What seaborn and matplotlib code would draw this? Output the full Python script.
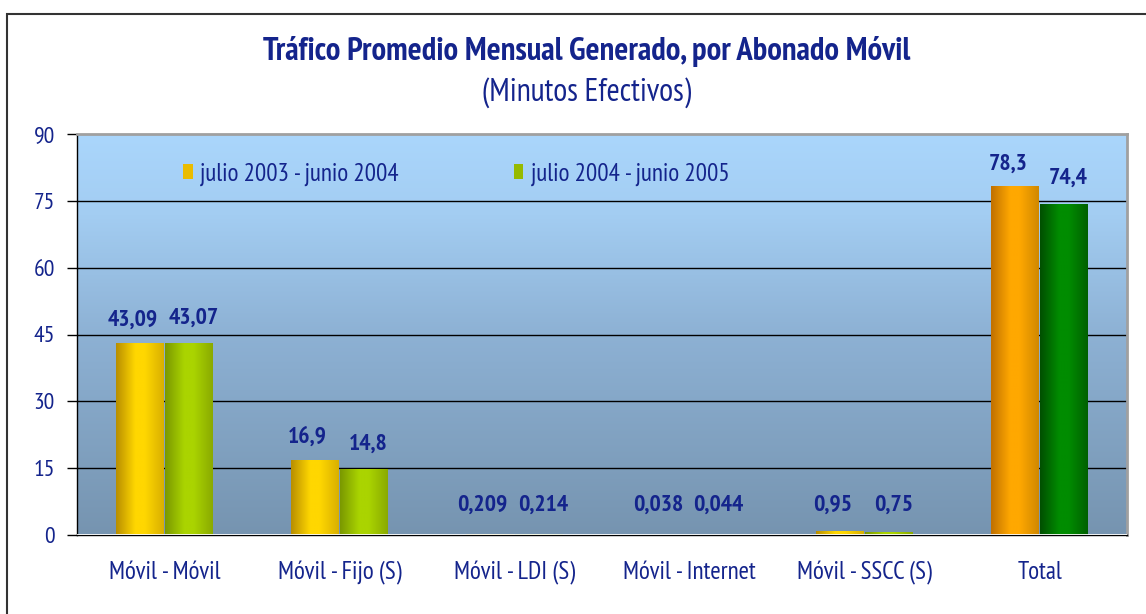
import numpy as np
import pandas as pd
import seaborn as sns
from matplotlib import pyplot as plt
from matplotlib.colors import LinearSegmentedColormap
from matplotlib.patches import Rectangle, Patch

# datos
categorias = ["Móvil - Móvil", "Móvil - Fijo (S)", "Móvil - LDI (S)",
              "Móvil - Internet", "Móvil - SSCC (S)", "Total"]
periodo_1 = "julio 2003 - junio 2004"
periodo_2 = "julio 2004 - junio 2005"
valores_1 = [43.09, 16.9, 0.209, 0.038, 0.95, 78.3]
valores_2 = [43.07, 14.8, 0.214, 0.044, 0.75, 74.4]
etiquetas_1 = ["43,09", "16,9", "0,209", "0,038", "0,95", "78,3"]
etiquetas_2 = ["43,07", "14,8", "0,214", "0,044", "0,75", "74,4"]
yticks = [0, 15, 30, 45, 60, 75, 90]

df = pd.DataFrame({
    "categoria": categorias * 2,
    "minutos": valores_1 + valores_2,
    "periodo": [periodo_1] * 6 + [periodo_2] * 6,
})

sns.set_style("white")
plt.rcParams["font.family"] = ["PT Sans Narrow", "Liberation Sans", "DejaVu Sans"]

azul = "#14248C"

fig = plt.figure(figsize=(11.46, 6.14), dpi=100)
ax = fig.add_axes([77 / 1146, 79 / 614, 1050 / 1146, 401 / 614])

# fondo degradado
cmap_fondo = LinearSegmentedColormap.from_list(
    "fondo", [(0.0, "#7694B0"), (0.5, "#8DB1D4"), (0.8, "#A3CDF2"), (1.0, "#AAD6FC")])
grad = np.linspace(0, 1, 256).reshape(-1, 1)
ax.imshow(grad, cmap=cmap_fondo, origin="lower", aspect="auto",
          extent=[0, 1, 0, 1], transform=ax.transAxes, zorder=0.1)

sns.barplot(data=df, x="categoria", y="minutos", hue="periodo",
            palette=["#FFD200", "#A8D000"], width=0.566, gap=0.035,
            legend=False, ax=ax, zorder=2)

# degradado tipo cilindro en cada barra
def cmap_barra(oscuro, claro, medio):
    return LinearSegmentedColormap.from_list(
        "b", [(0, oscuro), (0.4, claro), (0.6, claro), (1, medio)])

cm_oro = cmap_barra("#B88E00", "#FFD700", "#D9B000")
cm_verde = cmap_barra("#7A9800", "#AAD400", "#8AAA00")
cm_naranja = cmap_barra("#C07000", "#FFA800", "#D08800")
cm_vverde = cmap_barra("#004F00", "#008C00", "#006000")

barras = ax.patches[:12]
hgrad = np.linspace(0, 1, 128).reshape(1, -1)
for i, p in enumerate(barras):
    serie, cat = divmod(i, 6)
    if cat == 5:
        cm = cm_naranja if serie == 0 else cm_vverde
    else:
        cm = cm_oro if serie == 0 else cm_verde
    x0, w, h = p.get_x(), p.get_width(), p.get_height()
    im = ax.imshow(hgrad, cmap=cm, aspect="auto", extent=[x0, x0 + w, 0, h], zorder=2.5)
    im.set_clip_path(p)
    p.set_edgecolor("none")

# etiquetas de valores (primera serie un poco a la izquierda, segunda a la derecha)
for i in range(6):
    p1, p2 = barras[i], barras[i + 6]
    ax.annotate(etiquetas_1[i], (p1.get_x() + p1.get_width() / 2, max(valores_1[i] + 5.0, 6.7)),
                xytext=(-5, 0), textcoords="offset points",
                ha="center", va="center", fontsize=17, fontweight="bold", color=azul, zorder=5)
    ax.annotate(etiquetas_2[i], (p2.get_x() + p2.get_width() / 2, max(valores_2[i] + 5.6, 6.7)),
                xytext=(3, 0), textcoords="offset points",
                ha="center", va="center", fontsize=17, fontweight="bold", color=azul, zorder=5)

ax.set_ylim(0, 90)
ax.set_xlim(-0.5, 5.5)
ax.set_yticks(yticks)
ax.set_yticklabels([str(v) for v in yticks], fontsize=17, color=azul)
ax.set_xticks(np.arange(-0.5, 6, 1))
ax.set_xticklabels([])
ax.set_xticks(range(6), minor=True)
ax.set_xticklabels(categorias, minor=True, fontsize=18, color=azul)
ax.tick_params(axis="x", which="major", length=7, width=1, color="black", direction="out")
ax.tick_params(axis="x", which="minor", length=0, pad=19)
ax.tick_params(axis="y", length=7, width=1, color="black", direction="out", left=True, pad=9)
ax.set_xlabel("")
ax.set_ylabel("")

for v in yticks[1:-1]:
    ax.axhline(v, color="black", lw=1, zorder=1)
ax.axhline(0, color="white", lw=2, zorder=3)

for s in ["left", "bottom"]:
    ax.spines[s].set_color("black")
    ax.spines[s].set_linewidth(1)
for s in ["top", "right"]:
    ax.spines[s].set_color("#A0A0A0")
    ax.spines[s].set_linewidth(2)

# leyenda
handles = [Patch(facecolor="#EABC00", edgecolor="none"),
           Patch(facecolor="#96BA00", edgecolor="none")]
ax.legend(handles, [periodo_1, periodo_2], loc="center left", bbox_to_anchor=(0.101, 0.90),
          ncol=2, frameon=False, fontsize=18, labelcolor=azul, borderpad=0, borderaxespad=0,
          handlelength=0.38, handleheight=0.56, handletextpad=0.3, columnspacing=4.6)

# títulos
fig.text(0.512, 0.916, "Tráfico Promedio Mensual Generado, por Abonado Móvil",
         ha="center", va="center", fontsize=23.5, fontweight="bold", color=azul)
fig.text(0.512, 0.850, "(Minutos Efectivos)", ha="center", va="center",
         fontsize=23, color=azul)

# marco exterior
fig.patches.append(Rectangle((0.006, -0.1), 1.1, 1.077, transform=fig.transFigure,
                             fill=False, edgecolor="#333333", lw=1.5))

fig.savefig("out.png", dpi=100)
